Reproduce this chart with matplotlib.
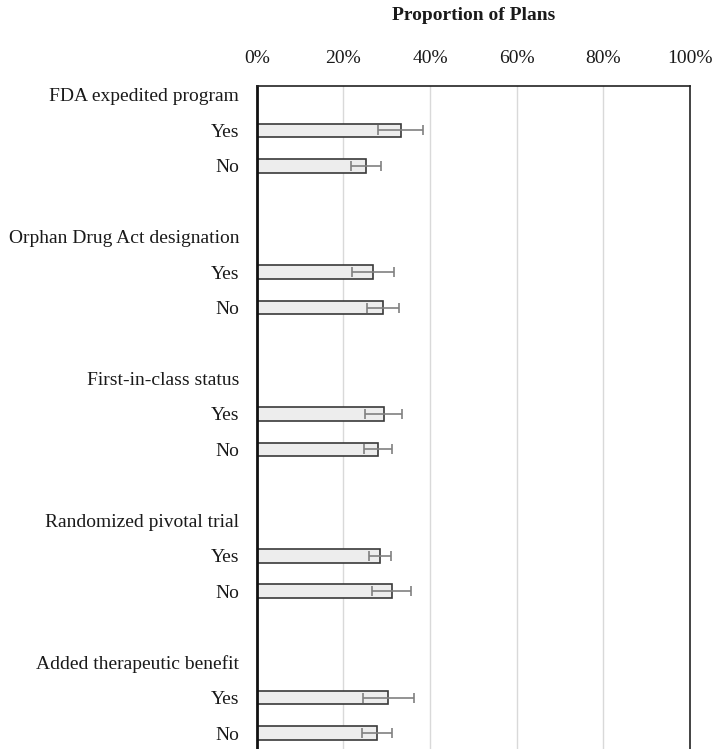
import matplotlib
matplotlib.use("Agg")
import matplotlib.pyplot as plt
import numpy as np

plt.rcParams['font.family'] = ['Liberation Serif', 'DejaVu Serif']

groups = ["FDA expedited program", "Orphan Drug Act designation",
          "First-in-class status", "Randomized pivotal trial",
          "Added therapeutic benefit"]
levels = ["Yes", "No"]
# proportion of plans (%) per group: [Yes, No]
values = [[33.3, 25.2], [26.9, 29.2], [29.4, 28.0], [28.4, 31.3], [30.4, 27.8]]
lower = [[28.1, 21.7], [22.1, 25.5], [25.1, 24.8], [26.0, 26.7], [24.5, 24.4]]
upper = [[38.4, 28.6], [31.7, 32.9], [33.6, 31.2], [31.0, 35.7], [36.3, 31.2]]
xticks = [0, 20, 40, 60, 80, 100]

fig = plt.figure(figsize=(7.16, 7.49), dpi=100)
ax = fig.add_axes([256.7 / 716, 0, (690 - 256.7) / 716, 1 - 86 / 749])

ypos, ylabels = [], []
bar_y, bar_v, err_lo, err_hi = [], [], [], []
row = 0
for g, name in enumerate(groups):
    ypos.append(row); ylabels.append(name)
    row += 1
    for k, lev in enumerate(levels):
        ypos.append(row); ylabels.append(lev)
        bar_y.append(row)
        bar_v.append(values[g][k])
        err_lo.append(values[g][k] - lower[g][k])
        err_hi.append(upper[g][k] - values[g][k])
        row += 1
    row += 1

for x in xticks[1:-1]:
    ax.axvline(x, color="#d9d9d9", lw=1.0, zorder=0)

ax.barh(bar_y, bar_v, height=0.38, color="#ededed", edgecolor="#3a3a3a",
        linewidth=1.2, zorder=2)
ax.errorbar(bar_v, bar_y, xerr=[err_lo, err_hi], fmt="none", ecolor="#808080",
            elinewidth=1.2, capsize=3.5, capthick=1.2, zorder=3)

ax.set_xlim(0, 100)
ax.set_ylim(18.45, -0.25)
ax.set_xticks(xticks)
ax.set_xticklabels([f"{v}%" for v in xticks])
ax.xaxis.tick_top()
ax.set_yticks(ypos)
ax.set_yticklabels(ylabels)
ax.tick_params(axis="both", length=0, labelsize=14, colors="#1a1a1a")
ax.tick_params(axis="x", pad=14)
ax.tick_params(axis="y", pad=12.5)

ax.spines["left"].set_linewidth(2.0)
ax.spines["left"].set_color("#111111")
ax.spines["top"].set_linewidth(1.2)
ax.spines["top"].set_color("#222222")
ax.spines["right"].set_linewidth(1.2)
ax.spines["right"].set_color("#222222")
ax.spines["bottom"].set_visible(False)

fig.text((256.7 + 690) / 2 / 716, 1 - 16 / 749, "Proportion of Plans",
         ha="center", va="center", fontsize=14, fontweight="bold", color="#1a1a1a")

fig.savefig("out.png", dpi=100)
